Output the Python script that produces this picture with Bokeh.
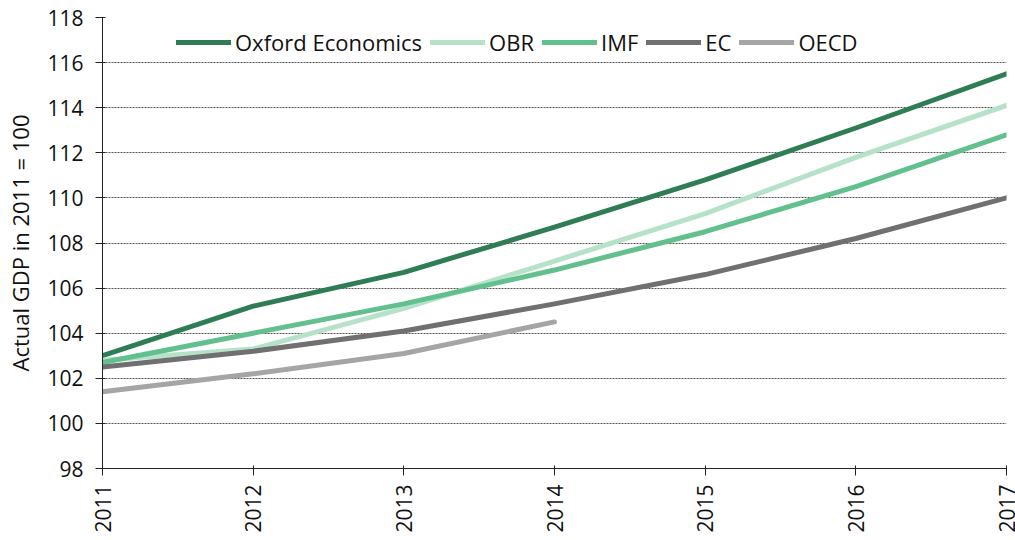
from bokeh.plotting import figure
from bokeh.embed import file_html
from bokeh.resources import INLINE
from bokeh.models import Range1d, FixedTicker, Legend, LegendItem
import math

years = [2011, 2012, 2013, 2014, 2015, 2016, 2017]
oxford = [103.0, 105.2, 106.7, 108.7, 110.8, 113.1, 115.5]
obr = [102.8, 103.3, 105.1, 107.2, 109.3, 111.8, 114.1]
imf = [102.7, 104.0, 105.3, 106.8, 108.5, 110.5, 112.8]
ec = [102.5, 103.2, 104.1, 105.3, 106.6, 108.2, 110.0]
oecd_years = [2011, 2012, 2013, 2014]
oecd = [101.4, 102.2, 103.1, 104.5]

series = [
    ("Oxford Economics", years, oxford, "#2e7d54"),
    ("OBR", years, obr, "#b5e2c8"),
    ("IMF", years, imf, "#62c08f"),
    ("EC", years, ec, "#707070"),
    ("OECD", oecd_years, oecd, "#a5a5a5"),
]

FONT = "Open Sans"

p = figure(width=1015, height=538, output_backend="svg", toolbar_location=None,
           x_range=Range1d(2011, 2017), y_range=Range1d(98, 118),
           min_border_left=102, min_border_right=9, min_border_top=17, min_border_bottom=70)
p.outline_line_color = None

items = []
for name, xs, ys, col in series:
    r = p.line(xs, ys, line_color=col, line_width=5, line_cap="round", line_join="round")
    items.append(LegendItem(label=name, renderers=[r]))

legend = Legend(items=items, orientation="horizontal", location=(74, 411),
                glyph_width=55, glyph_height=20, label_height=20, label_standoff=4,
                spacing=8, padding=0, margin=0,
                label_text_font=FONT, label_text_font_size="22px", label_text_color="#111111",
                background_fill_alpha=0, border_line_alpha=0)
p.add_layout(legend, "center")

p.xgrid.grid_line_color = None
p.ygrid.grid_line_color = "#555555"
p.ygrid.grid_line_dash = "2 1"
p.ygrid.grid_line_width = 1

p.xaxis.ticker = FixedTicker(ticks=years)
p.yaxis.ticker = FixedTicker(ticks=list(range(98, 119, 2)))
p.xaxis.major_label_orientation = math.pi / 2
p.xaxis.minor_tick_line_color = None
p.yaxis.minor_tick_line_color = None

for ax in (p.xaxis, p.yaxis):
    ax.axis_line_color = "#222222"
    ax.major_tick_line_color = "#222222"
    ax.major_tick_in = 3
    ax.major_tick_out = 7
    ax.major_label_text_font = FONT
    ax.major_label_text_font_size = "21px"
    ax.major_label_text_color = "#111111"

p.xaxis.major_label_standoff = 9
p.yaxis.major_label_standoff = 12
p.yaxis.axis_label = "Actual GDP in 2011 = 100"
p.yaxis.axis_label_text_font = FONT
p.yaxis.axis_label_text_font_size = "22px"
p.yaxis.axis_label_text_font_style = "normal"
p.yaxis.axis_label_text_color = "#111111"
p.yaxis.axis_label_standoff = 9

open("out.html", "w").write(file_html(p, INLINE))
